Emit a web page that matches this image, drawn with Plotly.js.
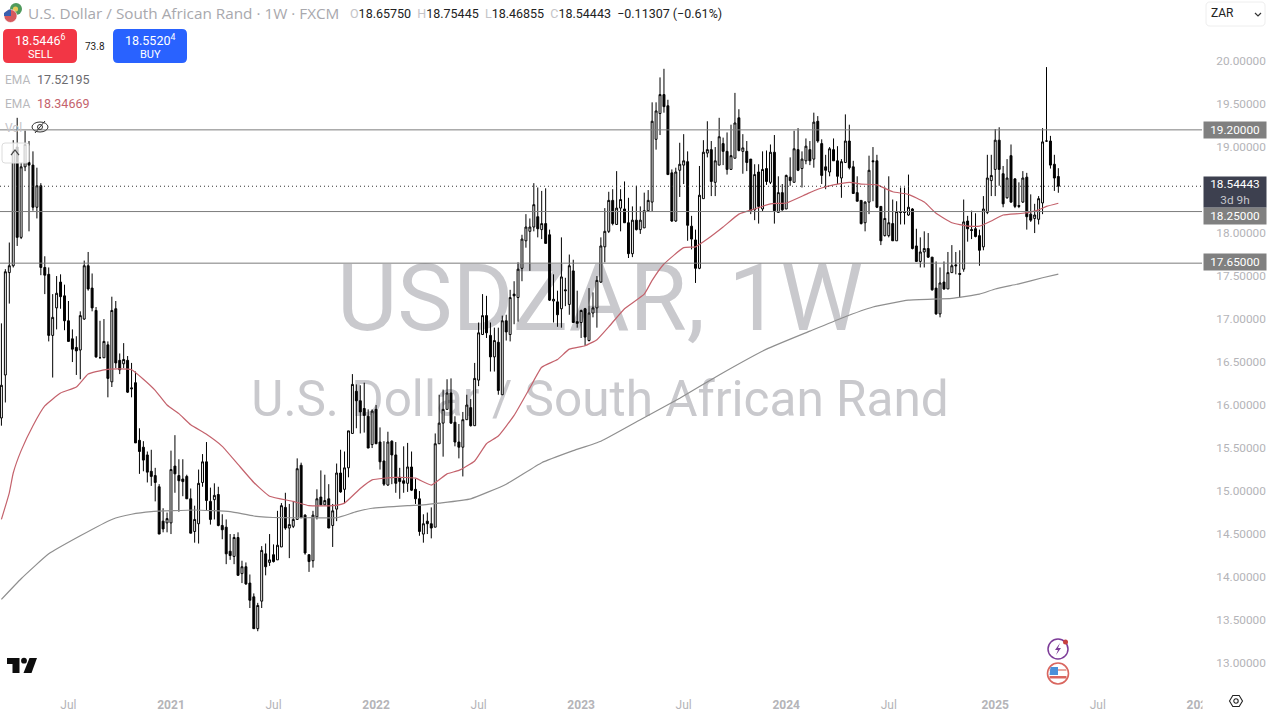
<!DOCTYPE html>
<html><head><meta charset="utf-8"><title>USDZAR 1W</title>
<script src="https://cdn.plot.ly/plotly-3.0.1.min.js"></script>
<style>html,body{margin:0;padding:0;background:#fff;overflow:hidden}#chart{width:1270px;height:715px}</style>
</head><body><div id="chart"></div>
<script>
const lastBar = "2025-04-28";
const open = [15.85,16.35,17.54,17.62,19.00,17.95,18.77,18.82,18.79,18.30,
18.55,17.60,17.52,16.81,17.13,17.43,17.27,16.98,16.77,16.67,
16.64,17.00,17.62,17.36,17.10,16.55,16.55,16.70,16.27,17.12,
16.52,16.48,16.52,16.20,16.26,15.59,15.51,15.42,15.23,15.18,
15.05,14.65,14.63,14.63,15.29,15.18,15.14,15.17,14.91,14.53,
14.62,15.10,15.34,14.88,14.90,14.96,14.60,14.58,14.30,14.24,
14.46,14.04,14.12,13.93,13.77,13.40,13.72,14.27,14.17,14.26,
14.20,14.35,14.81,14.57,14.59,14.67,15.30,14.72,14.26,14.19,
14.70,14.93,14.84,14.91,14.60,14.79,15.21,15.02,15.27,15.67,
16.16,16.05,15.96,15.87,15.54,15.95,15.57,15.35,15.07,15.58,
15.42,15.16,15.12,15.09,15.28,15.02,14.91,14.50,14.65,14.62,
14.58,15.55,15.79,15.95,16.14,15.80,15.57,15.51,15.83,15.97,
15.76,16.29,16.82,17.04,16.81,16.56,16.73,16.12,16.98,16.82,
17.29,17.25,17.59,17.91,18.02,18.07,18.19,18.04,18.11,17.98,
17.21,17.20,17.12,17.34,17.17,17.56,16.97,16.96,17.12,16.75,
17.07,17.13,17.43,17.84,18.02,18.38,18.10,18.29,18.28,18.12,
17.76,18.15,18.04,18.06,18.26,18.36,19.09,19.39,19.61,19.48,
18.70,18.14,18.73,18.79,18.83,18.08,17.92,17.59,18.40,18.93,
18.97,18.59,18.79,19.04,18.95,18.74,18.87,19.34,18.95,18.95,
18.86,18.27,18.71,18.28,18.75,18.59,18.94,18.24,18.47,18.28,
18.65,18.59,18.97,18.75,18.84,18.97,18.86,19.30,19.04,18.77,
18.71,18.97,18.84,18.64,18.82,19.07,18.77,18.47,18.38,18.12,
18.36,18.84,18.84,18.31,17.97,17.97,18.11,17.91,18.25,18.25,
18.21,18.28,17.85,17.67,17.78,17.82,17.72,17.36,17.06,17.43,
17.35,17.54,17.63,17.53,17.58,18.14,18.04,18.05,17.97,17.84,
18.24,18.61,18.74,19.08,18.69,18.41,18.90,18.63,18.32,18.36,
18.65,18.22,18.17,18.16,18.35,19.07,19.07,18.80,18.6575];
const close = [16.23,17.55,17.62,18.95,17.95,18.77,19.03,18.79,18.30,18.55,
17.60,17.51,16.81,17.02,17.30,17.26,16.98,16.74,16.65,16.63,
17.04,17.62,17.35,17.13,16.56,16.55,16.74,16.31,17.10,16.49,
16.41,16.53,16.15,16.19,15.56,15.46,15.36,15.22,15.17,15.10,
14.50,14.56,14.68,15.25,15.20,15.12,15.11,14.91,14.51,14.67,
15.09,15.34,14.89,14.67,14.95,14.60,14.55,14.27,14.25,14.46,
14.02,14.12,13.92,13.73,13.40,13.67,14.31,14.12,14.20,14.18,
14.37,14.83,14.57,14.61,14.67,15.26,14.69,14.28,14.18,14.72,
14.91,14.84,14.89,14.57,14.77,15.21,14.99,15.27,15.70,16.24,
16.05,15.92,15.88,15.50,15.93,15.55,15.34,15.08,15.57,15.42,
15.09,15.11,15.09,15.28,15.01,14.91,14.53,14.62,14.62,14.57,
15.55,15.79,15.95,16.14,15.79,15.57,15.51,15.83,16.00,15.76,
16.31,16.84,17.04,16.84,16.56,16.75,16.17,16.98,16.85,17.25,
17.27,17.58,17.93,18.07,18.07,18.33,18.05,18.11,17.88,17.22,
17.23,17.05,17.49,17.33,17.62,16.96,16.95,17.10,16.79,17.07,
17.13,17.45,17.85,18.02,18.38,18.11,18.29,18.39,18.12,17.76,
18.15,18.04,18.15,18.26,18.38,19.30,19.42,19.61,19.47,18.68,
18.14,18.71,18.80,18.84,18.09,17.93,17.59,18.44,18.94,18.97,
18.60,18.84,19.12,18.95,18.74,18.90,19.28,18.96,18.99,18.82,
18.26,18.68,18.31,18.74,18.60,18.94,18.26,18.47,18.27,18.67,
18.61,18.98,18.73,18.86,19.01,18.84,19.29,19.07,18.67,18.73,
18.98,18.84,18.66,18.83,19.07,18.76,18.46,18.37,18.11,18.36,
18.73,18.83,18.30,17.91,18.17,18.12,17.91,18.25,18.24,18.24,
18.30,17.82,17.67,17.78,17.82,17.72,17.34,17.06,17.42,17.35,
17.54,17.62,17.62,17.52,18.13,18.05,18.03,17.96,17.80,18.28,
18.64,18.67,19.08,18.74,18.34,18.64,18.36,18.31,18.31,18.64,
18.19,18.15,18.21,18.40,19.06,19.07,18.79,18.64,18.54443];
const high = [16.95,17.58,17.89,19.08,19.34,18.82,19.19,19.07,18.95,18.76,
18.58,17.73,17.60,17.29,17.50,17.52,17.40,17.21,16.88,16.80,
17.09,17.68,17.78,17.53,17.14,16.98,17.00,16.74,17.26,17.21,
16.60,16.72,16.57,16.49,16.39,15.73,15.58,15.46,15.48,15.27,
15.08,14.80,14.75,15.47,15.65,15.37,15.37,15.19,15.03,14.83,
15.25,15.43,15.57,15.04,15.09,15.05,14.73,14.67,14.50,14.50,
14.52,14.19,14.17,14.03,13.81,13.70,14.36,14.39,14.50,14.38,
14.77,14.86,14.98,14.85,14.88,15.38,15.33,14.73,14.26,14.77,
15.02,15.24,15.19,15.08,14.85,15.32,15.48,15.46,15.70,16.36,
16.24,16.23,16.26,15.95,15.95,16.00,15.74,15.58,15.69,15.59,
15.57,15.27,15.52,15.56,15.46,15.14,15.00,14.73,14.75,14.81,
15.67,16.12,16.18,16.30,16.31,15.87,15.78,15.92,16.12,16.07,
16.49,16.96,17.29,17.27,16.96,16.90,16.90,17.04,17.05,17.34,
17.44,17.66,17.98,18.22,18.17,18.58,18.53,18.49,18.52,18.04,
17.52,17.33,17.95,17.48,17.75,17.69,17.33,17.11,17.13,17.36,
17.31,17.50,17.95,18.29,18.48,18.51,18.72,18.51,18.60,18.41,
18.31,18.55,18.31,18.47,18.50,19.52,19.52,19.81,19.91,19.55,
18.74,18.76,19.05,19.15,18.95,18.20,18.04,18.78,19.08,19.30,
19.07,19.00,19.34,19.11,19.17,19.26,19.63,19.44,19.15,19.07,
18.86,18.80,18.80,18.95,18.96,19.03,19.14,18.66,18.57,18.68,
18.88,19.19,19.22,18.95,19.10,19.07,19.40,19.36,19.09,18.91,
19.00,19.10,19.01,18.86,19.38,19.26,18.84,18.66,18.38,18.37,
18.90,19.00,18.91,18.31,18.53,18.66,18.39,18.37,18.53,18.53,
18.68,18.29,18.05,17.95,18.02,18.00,17.72,17.67,17.60,17.67,
17.78,17.86,17.78,17.80,18.39,18.20,18.26,18.23,18.04,18.43,
18.91,18.91,19.21,19.23,18.78,18.86,19.03,18.64,18.59,18.72,
18.70,18.45,18.34,18.43,19.22,19.93,19.13,18.91,18.75445];
const low = [15.76,16.03,17.18,17.60,17.85,17.93,18.72,18.02,18.26,18.17,
17.51,17.29,16.74,16.32,16.88,17.12,16.87,16.74,16.50,16.35,
16.30,16.99,17.33,17.09,16.55,16.55,16.55,16.09,16.21,16.43,
16.36,16.43,16.14,16.09,15.56,15.20,15.23,15.10,15.06,14.88,
14.50,14.52,14.52,14.50,14.98,14.76,14.94,14.91,14.51,14.40,
14.39,15.05,14.78,14.61,14.67,14.59,14.44,14.15,14.20,14.15,
14.02,13.93,13.91,13.64,13.40,13.37,13.64,14.02,14.13,14.17,
14.20,14.35,14.55,14.22,14.57,14.67,14.69,14.26,14.06,14.11,
14.67,14.84,14.84,14.57,14.35,14.65,14.98,14.86,15.16,15.67,
15.73,15.67,15.68,15.50,15.50,15.55,15.25,15.06,15.06,15.08,
14.98,14.91,14.98,14.99,15.00,14.85,14.48,14.40,14.50,14.45,
14.58,15.55,15.40,15.95,15.78,15.52,15.38,15.17,15.83,15.75,
15.76,16.22,16.82,16.78,16.39,16.39,16.12,16.12,16.75,16.74,
16.94,16.97,17.44,17.83,17.56,18.02,17.95,17.93,17.88,17.21,
16.96,16.91,16.90,17.15,17.05,16.96,16.90,16.78,16.69,16.74,
17.02,16.90,17.42,17.66,18.00,18.09,18.10,18.02,18.12,17.71,
17.72,18.03,17.99,18.06,18.25,18.25,18.97,19.14,19.40,18.68,
18.13,18.13,18.42,18.57,17.91,17.81,17.42,17.58,18.40,18.88,
18.43,18.43,18.79,18.79,18.68,18.74,18.87,18.95,18.69,18.72,
18.22,18.15,18.11,18.25,18.56,18.57,18.11,18.24,18.26,18.28,
18.55,18.59,18.72,18.53,18.80,18.79,18.76,19.05,18.57,18.51,
18.66,18.84,18.57,18.41,18.82,18.74,18.46,18.37,18.10,18.02,
18.22,18.37,18.29,17.86,17.96,17.95,17.91,17.91,18.10,18.10,
18.20,17.81,17.67,17.60,17.60,17.71,17.33,17.05,17.02,17.34,
17.35,17.54,17.52,17.25,17.55,17.90,17.93,17.95,17.62,17.80,
18.22,18.43,18.43,18.55,18.30,18.40,18.35,18.29,18.29,18.35,
18.04,18.13,18.00,18.10,18.22,19.06,18.75,18.49,18.46855];
const redEmaBars = [0,2,3,5,8,11,15,19,22,26,30,33,36,39,42,45,48,52,56,60,64,68,74,78,84,87,91,94,100,105,109,113,116,120,123,126,130,134,137,141,144,148,151,154,158,163,165,168,173,176,179,183,187,191,195,199,204,207,211,215,218,222,226,230,234,237,241,245,248,251,254,259,263,265,268];
const redEma = [14.67,14.98,15.21,15.47,15.76,15.99,16.14,16.21,16.36,16.41,16.42,16.41,16.30,16.17,16.00,15.90,15.77,15.66,15.52,15.31,15.10,14.94,14.88,14.83,14.83,14.86,15.03,15.13,15.16,15.15,15.07,15.20,15.24,15.35,15.55,15.64,15.88,16.20,16.44,16.53,16.65,16.69,16.76,16.91,17.12,17.29,17.45,17.64,17.83,17.84,17.93,18.07,18.22,18.28,18.34,18.35,18.45,18.51,18.56,18.59,18.57,18.56,18.48,18.45,18.36,18.23,18.12,18.08,18.08,18.14,18.21,18.23,18.27,18.31,18.34669];
const grayEmaBars = [0,5,12,20,28,33,38,49,58,64,71,79,85,90,94,103,107,111,119,128,137,145,152,162,172,182,194,205,213,221,230,241,248,252,258,264,268];
const grayEma = [13.74,13.98,14.27,14.48,14.67,14.73,14.76,14.78,14.76,14.71,14.69,14.69,14.69,14.76,14.80,14.83,14.84,14.86,14.91,15.08,15.33,15.47,15.58,15.83,16.08,16.35,16.65,16.86,17.01,17.14,17.22,17.24,17.29,17.35,17.41,17.48,17.52195];
const levels = [19.2, 18.25, 17.65];
const levelLabels = ["19.20000","18.25000","17.65000"];
const lastPrice = 18.54443;
const priceTicks = [13,13.5,14,14.5,15,15.5,16,16.5,17,17.5,18,19,19.5,20];
const timeTicks = ["2020-07-06","2021-01-04","2021-07-05","2022-01-03","2022-07-04","2023-01-02","2023-07-03","2024-01-01","2024-07-01","2025-01-06","2025-07-07","2026-01-05"];
const timeLabels = ["Jul","<b>2021</b>","Jul","<b>2022</b>","Jul","<b>2023</b>","Jul","<b>2024</b>","Jul","<b>2025</b>","Jul","<b>2026</b>"];

const n = close.length, endMs = Date.parse(lastBar+"T00:00:00Z");
const dates = close.map((_,i)=>new Date(endMs-(n-1-i)*7*864e5).toISOString().slice(0,10));

const PW=1202, PH=688, F='Roboto, sans-serif';
const X=p=>p/PW, Y=p=>1-p/PH;
const ann=(x,y,text,size,color,anchor,extra)=>Object.assign({xref:'paper',yref:'paper',x:X(x),y:Y(y),text,showarrow:false,
  xanchor:anchor||'left',yanchor:'middle',align:anchor||'left',font:{family:F,size,color},borderpad:0},extra||{});
const pth=(cmds,fill,lineColor,lw,layer)=>({type:'path',xref:'paper',yref:'paper',layer:layer||'above',
  path:cmds.replace(/(-?\d+(?:\.\d+)?),(-?\d+(?:\.\d+)?)/g,(m,a,b)=>X(+a).toFixed(6)+','+Y(+b).toFixed(6)),
  fillcolor:fill||'rgba(0,0,0,0)',line:{color:lineColor||'rgba(0,0,0,0)',width:lw||0}});
const rrect=(x0,y0,x1,y1,r)=>`M${x0+r},${y0} L${x1-r},${y0} Q${x1},${y0} ${x1},${y0+r} L${x1},${y1-r} Q${x1},${y1} ${x1-r},${y1} L${x0+r},${y1} Q${x0},${y1} ${x0},${y1-r} L${x0},${y0+r} Q${x0},${y0} ${x0+r},${y0} Z`;
const circ=(cx,cy,r,fill,lc,lw)=>({type:'circle',xref:'paper',yref:'paper',layer:'above',x0:X(cx-r),x1:X(cx+r),y0:Y(cy+r),y1:Y(cy-r),fillcolor:fill||'rgba(0,0,0,0)',line:{color:lc||'rgba(0,0,0,0)',width:lw||0}});
const wm=(x0,y0,x1,y1,text,size)=>({type:'rect',xref:'paper',yref:'paper',layer:'below',x0:X(x0),x1:X(x1),y0:Y(y1),y1:Y(y0),
  fillcolor:'rgba(0,0,0,0)',line:{width:0},label:{text,textposition:'middle center',font:{family:F,size,color:'#c9c9cd'}}});

const traces=[
 {type:'scatter',mode:'lines',x:redEmaBars.map(i=>dates[i]),y:redEma,line:{color:'#c4626c',width:1.2,shape:'spline',smoothing:0.4},hoverinfo:'skip',name:'EMA 50'},
 {type:'scatter',mode:'lines',x:grayEmaBars.map(i=>dates[i]),y:grayEma,line:{color:'#8f8f8f',width:1.2,shape:'spline',smoothing:0.4},hoverinfo:'skip',name:'EMA 200'},
 {type:'candlestick',x:dates,open,high,low,close,whiskerwidth:0,hoverinfo:'skip',name:'USDZAR',
  increasing:{line:{color:'#000',width:1},fillcolor:'#fff'},decreasing:{line:{color:'#000',width:1},fillcolor:'#000'}}
];

const shapes=[
 wm(200,244,1000,339,'USDZAR, 1W',93),
 wm(100,366,1100,424,'U.S. Dollar / South African Rand',49.5),
 ...levels.map(v=>({type:'line',xref:'paper',yref:'y',x0:0,x1:1,y0:v,y1:v,layer:'above',line:{color:'#7c7c7c',width:1}})),
 {type:'line',xref:'paper',yref:'y',x0:0,x1:1,y0:lastPrice,y1:lastPrice,layer:'above',line:{color:'#333',width:1,dash:'1px,3px'}},
 // logo
 circ(16,9,6,'#4f9a5c'),circ(15.5,9,2.6,'#e8c95a'),
 circ(10.5,16,6.5,'#d65a5f','#fff',0.6),pth('M4,16 L11,16 L11,9.5 L9,9.5 L4,13 Z','#3a5fb0'),
 // sell / buy
 pth(rrect(3,29,77,63,5),'#f23645'),pth(rrect(113,29,187,63,5),'#2962ff'),
 // eye
 {type:'circle',xref:'paper',yref:'paper',layer:'above',x0:X(32),x1:X(48),y0:Y(132),y1:Y(122),fillcolor:'rgba(0,0,0,0)',line:{color:'#333',width:1}},
 circ(40,127,2.5,null,'#333',1),pth('M35,133 L45,121',null,'#333',1),
 // collapse
 pth(rrect(2,143,29,163,3),'rgba(255,255,255,0.78)','#dcdcdc',1),pth('M11,155 L15,150 L19,155',null,'#444',1.2),
 // currency selector
 pth(rrect(1206,2,1265,26,4),'#fff','#eeeeee',1),pth('M1255,13 L1258,16 L1261,13',null,'#333',1.2),
 // TV logo
 pth('M7,658 L19.5,658 L19.5,673 L12.5,673 L12.5,664 L7,664 Z','#0d0d0d'),circ(24,660.7,2.9,'#0d0d0d'),pth('M29.5,658 L37,658 L31.5,673 L23.5,673 Z','#0d0d0d'),
 // event icons
 circ(1058,649,10,'#fff','#7d3c98',1.5),pth('M1060,643 L1055,650 L1058,650 L1056,655 L1061,648 L1058,648 Z','#7d3c98'),circ(1065.5,642,2.5,'#c8403f'),
 circ(1058,673.5,10.5,'#fff','#d9665f',1.6),pth('M1049.5,669 L1066.5,669 L1066.5,671 L1049.5,671 Z','#e8a8a0'),pth('M1049.5,676 L1066.5,676 L1066.5,678.5 L1049.5,678.5 Z','#d9665f'),pth('M1050.5,667 L1058,667 L1058,675 L1049.5,675 Z','#4a90d9'),
 // clip of the time scale at the price scale edge
 {type:'rect',xref:'paper',yref:'paper',layer:'above',x0:X(1202.5),x1:X(1224),y0:Y(712),y1:Y(690),fillcolor:'#fff',line:{width:0}},
 // settings hexagon
 pth('M1229.5,701 L1232.8,695.5 L1239.2,695.5 L1242.5,701 L1239.2,706.5 L1232.8,706.5 Z',null,'#222',1.1),circ(1236,701,2.2,null,'#222',1.1)
];

const tag=(y,text,bg,h)=>ann(1234.5,y,text,11.8,'#fff','center',{bgcolor:bg,width:62,height:h||16,valign:'middle',align:'center'});
const annotations=[
 ann(27,13.5,'U.S. Dollar / South African Rand · 1W · FXCM',15.3,'#a8a8ad','left',{font:{family:'"Open Sans", sans-serif',size:15.3,color:'#a8a8ad'}}),
 ann(349,13.5,'<span style="color:#c4c4c8">O</span>18.65750  <span style="color:#c4c4c8">H</span>18.75445  <span style="color:#c4c4c8">L</span>18.46855  <span style="color:#c4c4c8">C</span>18.54443  −0.11307 (−0.61%)',12.5,'#222'),
 ann(40,39.5,'18.5446<sup>6</sup>',12.5,'#fff','center'),ann(40,54,'SELL',11,'#fff','center'),
 ann(150,39.5,'18.5520<sup>4</sup>',12.5,'#fff','center'),ann(150,54,'BUY',11,'#fff','center'),
 ann(95,46.5,'73.8',10,'#222','center'),
 ann(4,79.5,'EMA',12,'#b8b8bc'),ann(36,79.5,'17.52195',12.5,'#6b6b6f'),
 ann(4,103.5,'EMA',12,'#b8b8bc'),ann(36,103.5,'18.34669',12.5,'#c4626c'),
 ann(4,127.5,'Vol',12,'#c4c4c8'),
 ann(1210,13.5,'ZAR',12,'#222'),
 tag(130,levelLabels[0],'#808080'),tag(216,levelLabels[1],'#808080'),tag(262,levelLabels[2],'#808080'),
 tag(192,'18.54443<br><span style="color:#c5c6cc">3d 9h</span>','#3d404f',30)
];

const layout={width:1270,height:715,margin:{l:0,r:68,t:0,b:27,pad:0},paper_bgcolor:'#fff',plot_bgcolor:'#fff',showlegend:false,hovermode:false,boxgap:0.3,
 xaxis:{type:'date',range:['2020-03-06 12:00','2026-01-08'],rangeslider:{visible:false},showgrid:false,zeroline:false,showline:false,
  tickmode:'array',tickvals:timeTicks,ticktext:timeLabels,ticks:'outside',ticklen:6,tickcolor:'rgba(0,0,0,0)',tickangle:0,tickfont:{family:F,size:12,color:'#b4b4b8'}},
 yaxis:{side:'right',range:[12.71,20.71],showgrid:false,zeroline:false,showline:false,tickmode:'array',tickvals:priceTicks,ticktext:priceTicks.map(v=>v.toFixed(5)),
  ticks:'outside',ticklen:11,tickcolor:'rgba(0,0,0,0)',tickfont:{family:F,size:11.8,color:'#b4b4b8'}},
 shapes,annotations};
Plotly.newPlot('chart',traces,layout,{staticPlot:true,displayModeBar:false});
</script></body></html>
